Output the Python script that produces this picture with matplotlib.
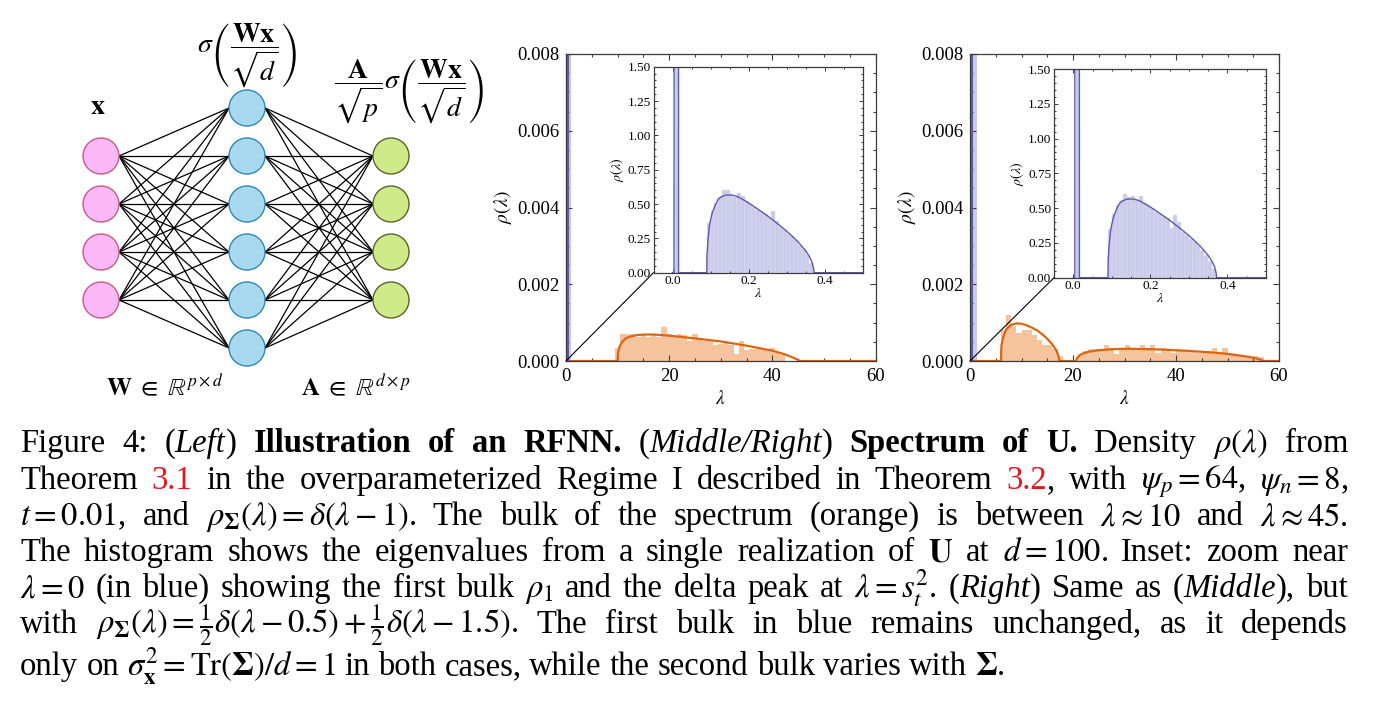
import matplotlib
matplotlib.use('Agg')
import matplotlib.pyplot as plt
from matplotlib.patches import Circle, ConnectionPatch
from matplotlib.ticker import MultipleLocator

plt.rcParams['font.family'] = ['Liberation Serif', 'DejaVu Serif']
plt.rcParams['mathtext.fontset'] = 'stix'

W, H = 1375, 704

# ---------------- data ----------------
# middle panel, second bulk (orange)
mid_bin_start = 9.5
mid_bin_width = 1.0
mid_bars = [0.00035, 0.00071, 0.00071, 0.00071, 0.00063, 0.00071, 0.00063, 0.00069,
            0.00063, 0.00089, 0.00071, 0.00063, 0.00071, 0.00069, 0.00052, 0.00071,
            0.00058, 0.00052, 0.00052, 0.00041, 0.00045, 0.00052, 0.00041, 0.00019,
            0.00052, 0.00028, 0.00032, 0.00032, 0.00032, 0.00028, 0.00035, 0.00021,
            0.00015]
mid_lam = [0, 10.0, 10.1, 10.4, 10.9, 11.6, 12.5, 14.0, 15.5, 17.0, 20.0, 25.0, 30.0,
           35.0, 40.0, 42.5, 44.0, 44.8, 45.2, 60]
mid_rho = [0, 0, 0.00022, 0.00038, 0.00050, 0.00059, 0.00064, 0.00068, 0.00069, 0.00069,
           0.00066, 0.00059, 0.00051, 0.00040, 0.00027, 0.00017, 0.00009, 0.00004, 0, 0]

# right panel, two bulks (orange)
right_bin_start_a = 6.0
right_bars_a = [0.00080, 0.00120, 0.00090, 0.00072, 0.00080, 0.00080, 0.00068, 0.00055,
                0.00042, 0.00042, 0.00030, 0.00012]
right_bin_start_b = 21.0
right_bars_b = [0.00019, 0.00026, 0.00030, 0.00030, 0.00030, 0.00041, 0.00033, 0.00018,
                0.00033, 0.00041, 0.00030, 0.00030, 0.00041, 0.00033, 0.00041, 0.00020,
                0.00033, 0.00030, 0.00022, 0.00030, 0.00028, 0.00026, 0.00026, 0.00022,
                0.00022, 0.00026, 0.00035, 0.00020, 0.00035, 0.00020, 0.00017, 0.00015,
                0.00013, 0.00011, 0.00013, 0.00010]
right_lam = [0, 6.0, 6.1, 6.4, 7.0, 8.0, 9.0, 10.0, 11.0, 12.0, 13.0, 14.0, 15.0, 16.0,
             16.8, 17.2, 17.35, 20.6, 20.8, 21.3, 22.0, 23.0, 25.0, 28.0, 31.0, 34.0,
             37.0, 40.0, 43.0, 46.0, 49.0, 52.0, 54.0, 55.5, 56.5, 57.0, 60]
right_rho = [0, 0, 0.00040, 0.00060, 0.00082, 0.00094, 0.00098, 0.00097, 0.00093, 0.00087,
             0.00080, 0.00070, 0.00058, 0.00043, 0.00027, 0.00012, 0, 0, 0.00008, 0.00015,
             0.00020, 0.00024, 0.00028, 0.00031, 0.00032, 0.00031, 0.00030, 0.00028,
             0.00026, 0.00023, 0.00020, 0.00015, 0.00011, 0.00007, 0.00003, 0, 0]

# first bulk + delta peak (blue), same in both panels
blue_lam = [0.0, 0.004, 0.006, 0.014, 0.016, 0.090, 0.0905, 0.093, 0.097, 0.100, 0.105,
            0.112, 0.120, 0.130, 0.140, 0.155, 0.170, 0.190, 0.210, 0.230, 0.250, 0.270,
            0.290, 0.310, 0.330, 0.350, 0.360, 0.367, 0.371, 0.372, 0.5]
blue_rho = [0, 0, 40, 40, 0, 0, 0.12, 0.23, 0.34, 0.385, 0.44, 0.49, 0.535, 0.555, 0.565,
            0.566, 0.555, 0.525, 0.49, 0.452, 0.413, 0.37, 0.326, 0.278, 0.225, 0.16,
            0.117, 0.075, 0.029, 0, 0]
delta_bin = 0.006
inset_bin_start = 0.09
inset_bin_width = 0.01
mid_inset_bars = [0.36, 0.45, 0.51, 0.55, 0.60, 0.60, 0.57, 0.55, 0.58, 0.56, 0.52, 0.50,
                  0.48, 0.46, 0.44, 0.43, 0.40, 0.45, 0.38, 0.33, 0.31, 0.28, 0.27, 0.24,
                  0.20, 0.17, 0.13, 0.07]
right_inset_bars = [0.35, 0.46, 0.52, 0.56, 0.60, 0.58, 0.59, 0.56, 0.59, 0.54, 0.52, 0.50,
                    0.47, 0.46, 0.44, 0.43, 0.36, 0.45, 0.40, 0.33, 0.31, 0.28, 0.26, 0.23,
                    0.20, 0.16, 0.12, 0.06]
main_blue_width = [0.9, 1.3]

# network
layer_n = [4, 6, 4]
layer_x = [101, 247, 391]
node_face = ['#fbb8f6', '#a9d9ef', '#d0ea8a']
node_edge = ['#c85a85', '#2f86b8', '#55652c']

caption = [
    [("Figure 4: (", "r"), ("Left", "i"), (") ", "r"), ("Illustration of an RFNN.", "b"),
     (" (", "r"), ("Middle/Right", "i"), (") ", "r"), ("Spectrum of U.", "b"),
     (r" Density $\rho(\lambda)$ from", "r")],
    [("Theorem ", "r"), ("3.1", "red"), (" in the overparameterized Regime I described in Theorem ", "r"),
     ("3.2", "red"), (r", with $\psi_p=64$, $\psi_n=8$,", "r")],
    [(r"$t=0.01$, and $\rho_{\mathbf{\Sigma}}(\lambda)=\delta(\lambda-1)$. The bulk of the spectrum "
      r"(orange) is between $\lambda\approx10$ and $\lambda\approx45$.", "r")],
    [(r"The histogram shows the eigenvalues from a single realization of $\mathbf{U}$ at $d=100$. "
      r"Inset: zoom near", "r")],
    [(r"$\lambda=0$ (in blue) showing the first bulk $\rho_1$ and the delta peak at $\lambda=s_t^2$. (", "r"),
     ("Right", "i"), (") Same as (", "r"), ("Middle", "i"), ("), but", "r")],
    [(r"with $\rho_{\mathbf{\Sigma}}(\lambda)=\frac{1}{2}\delta(\lambda-0.5)+\frac{1}{2}\delta(\lambda-1.5)$. "
      r"The first bulk in blue remains unchanged, as it depends", "r")],
    [(r"only on $\sigma_{\mathbf{x}}^2=\mathrm{Tr}(\mathbf{\Sigma})/d=1$ in both cases, while the "
      r"second bulk varies with $\mathbf{\Sigma}$.", "r")],
]

ORANGE = '#dd6512'
ORANGE_BAR = '#f6c49c'
BLUE = '#5c5caa'
BLUE_BAR = '#cacaea'
SPINE = '#3c3c3c'


def px_rect(left, top, right, bottom):
    return [left / W, 1 - bottom / H, (right - left) / W, (bottom - top) / H]


fig = plt.figure(figsize=(W / 100, H / 100), dpi=100)

# ---------------- network diagram ----------------
net = fig.add_axes([0, 0, 1, 1])
net.set_xlim(0, W)
net.set_ylim(H, 0)
net.axis('off')
net.patch.set_visible(False)
gap, cy, r = 48, 228, 18
pos = []
for n, x in zip(layer_n, layer_x):
    pos.append([(x, cy + (i - (n - 1) / 2) * gap) for i in range(n)])
for a in range(len(pos) - 1):
    for (x1, y1) in pos[a]:
        for (x2, y2) in pos[a + 1]:
            net.plot([x1 + r, x2 - r], [y1, y2], color='k', lw=0.9, zorder=1)
for k, layer in enumerate(pos):
    for (x, y) in layer:
        net.add_patch(Circle((x, y), r, fc=node_face[k], ec=node_edge[k], lw=1.0, zorder=2))

net.text(98, 108, r'$\mathbf{x}$', fontsize=20, ha='center', va='center')
net.text(247, 55, r'$\sigma\left(\dfrac{\mathbf{Wx}}{\sqrt{d}}\right)$', fontsize=20,
         ha='center', va='center')
net.text(409, 91, r'$\dfrac{\mathbf{A}}{\sqrt{p}}\sigma\left(\dfrac{\mathbf{Wx}}{\sqrt{d}}\right)$',
         fontsize=20, ha='center', va='center')
net.text(165, 395, r'$\mathbf{W}\ \in\ \mathbb{R}^{p\times d}$', fontsize=18, ha='center', va='baseline')
net.text(356, 395, r'$\mathbf{A}\ \in\ \mathbb{R}^{d\times p}$', fontsize=18, ha='center', va='baseline')


# ---------------- spectrum panels ----------------
def style_main(ax):
    ax.set_xlim(0, 60)
    ax.set_ylim(0, 0.008)
    ax.xaxis.set_major_locator(MultipleLocator(20))
    ax.xaxis.set_minor_locator(MultipleLocator(5))
    ax.yaxis.set_major_locator(MultipleLocator(0.002))
    ax.yaxis.set_minor_locator(MultipleLocator(0.0005))
    ax.tick_params(which='both', direction='in', top=True, right=True, color=SPINE, width=0.8)
    ax.tick_params(which='major', length=4, labelsize=13.5, pad=5)
    ax.tick_params(which='minor', length=2.5)
    for s in ax.spines.values():
        s.set_color(SPINE)
        s.set_linewidth(0.9)
    ax.set_xlabel(r'$\lambda$', fontsize=14, labelpad=4)
    ax.set_ylabel(r'$\rho(\lambda)$', fontsize=14, labelpad=2)


def style_inset(ax):
    ax.set_xlim(-0.05, 0.5)
    ax.set_ylim(0, 1.5)
    ax.xaxis.set_major_locator(MultipleLocator(0.2))
    ax.xaxis.set_minor_locator(MultipleLocator(0.05))
    ax.yaxis.set_major_locator(MultipleLocator(0.25))
    ax.yaxis.set_minor_locator(MultipleLocator(0.05))
    ax.tick_params(which='both', direction='in', top=True, right=True, color=SPINE, width=0.7)
    ax.tick_params(which='major', length=3, labelsize=9.5, pad=2)
    ax.tick_params(which='minor', length=1.5)
    for s in ax.spines.values():
        s.set_color(SPINE)
        s.set_linewidth(0.9)
    ax.set_xlabel(r'$\lambda$', fontsize=10, labelpad=0)
    ax.set_ylabel(r'$\rho(\lambda)$', fontsize=10, labelpad=1)


panels = [
    (px_rect(566, 54, 875.5, 361), px_rect(653.5, 66.7, 862.7, 272.7),
     [(mid_bin_start, mid_bars)], mid_lam, mid_rho, mid_inset_bars, main_blue_width[0]),
    (px_rect(970, 54, 1279, 361), px_rect(1054, 69, 1266, 277.7),
     [(right_bin_start_a, right_bars_a), (right_bin_start_b, right_bars_b)],
     right_lam, right_rho, right_inset_bars, main_blue_width[1]),
]

for rect, irect, bar_sets, lam, rho, ibars, bw in panels:
    ax = fig.add_axes(rect)
    for start, heights in bar_sets:
        xs = [start + i * mid_bin_width for i in range(len(heights))]
        ax.bar(xs, heights, width=mid_bin_width, align='edge', color=ORANGE_BAR, lw=0)
    ax.bar([0], [1.0], width=bw, align='edge', color=BLUE_BAR, lw=0)
    ax.plot(lam, rho, color=ORANGE, lw=1.6)
    ax.plot(blue_lam, blue_rho, color=BLUE, lw=1.6)
    style_main(ax)

    axin = fig.add_axes(irect)
    ixs = [inset_bin_start + i * inset_bin_width for i in range(len(ibars))]
    axin.bar(ixs, ibars, width=inset_bin_width, align='edge', color=BLUE_BAR,
             edgecolor='#e4e4f4', lw=0.3)
    axin.bar([delta_bin], [40], width=inset_bin_width, align='edge', color=BLUE_BAR, lw=0)
    axin.plot(blue_lam, blue_rho, color=BLUE, lw=1.0)
    style_inset(axin)

    con = ConnectionPatch(xyA=(0, 0), coordsA=ax.transData, xyB=(0, 0), coordsB=axin.transAxes,
                          color='k', lw=0.8)
    fig.add_artist(con)

# ---------------- caption (justified) ----------------
cap_size = 23.5
cap_left, cap_right = 20, 1348
cap_baselines = [452, 489, 525, 561, 597, 633, 675]
styles = {'r': {'color': 'k'}, 'b': {'fontweight': 'bold', 'color': 'k'},
          'i': {'fontstyle': 'italic', 'color': 'k'}, 'red': {'color': '#e8141a'}}

renderer = fig.canvas.get_renderer()


def split_words(pieces):
    words = [[]]
    for txt, st in pieces:
        for k, p in enumerate(txt.split(' ')):
            if k > 0:
                words.append([])
            if p:
                words[-1].append((p, st))
    return [w for w in words if w]


for li, (pieces, yb) in enumerate(zip(caption, cap_baselines)):
    words = split_words(pieces)
    arts, widths = [], []
    for w in words:
        wa, ww = [], []
        for txt, st in w:
            t = fig.text(0, 1 - yb / H, txt, fontsize=cap_size, va='baseline', ha='left',
                         **styles[st])
            wa.append(t)
            ww.append(t.get_window_extent(renderer).width)
        arts.append(wa)
        widths.append(ww)
    total = sum(sum(ww) for ww in widths)
    if li < len(caption) - 1:
        space = (cap_right - cap_left - total) / (len(words) - 1)
    else:
        space = cap_size * 1.389 * 0.25
    x = cap_left
    for wa, ww in zip(arts, widths):
        for t, wdt in zip(wa, ww):
            t.set_x(x / W)
            x += wdt
        x += space

fig.savefig('out.png', dpi=100)
